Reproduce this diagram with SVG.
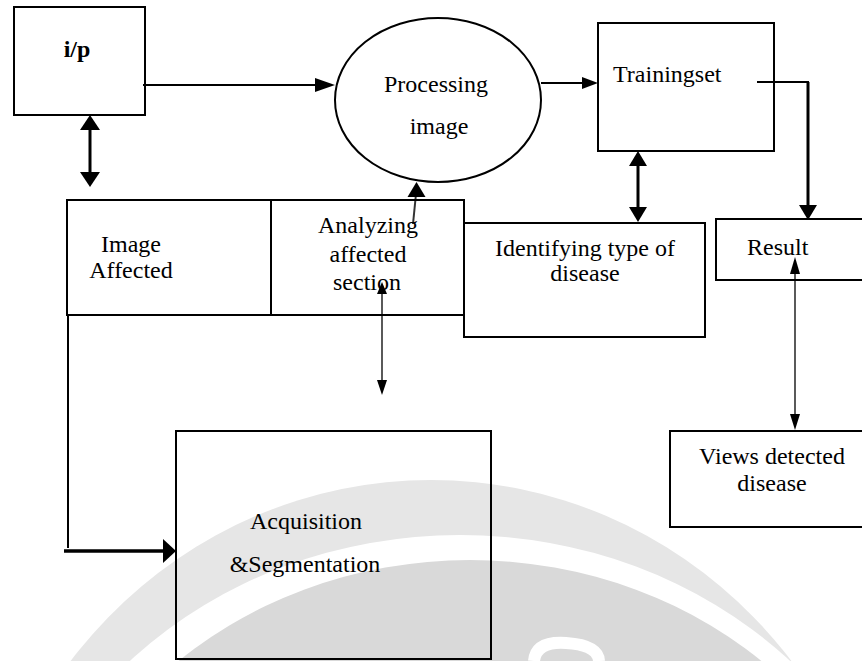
<svg xmlns="http://www.w3.org/2000/svg" width="862" height="661" viewBox="0 0 862 661">
  <style>
    .box { fill: none; stroke: #000; stroke-width: 2; }
    .t { font-family: "Liberation Serif", "Times New Roman", serif; font-size: 24px; fill: #000; }
    .c { text-anchor: middle; }
    .ln { fill: none; stroke: #000; stroke-width: 2; }
    .thick { fill: none; stroke: #000; stroke-width: 3; }
    .thin { fill: none; stroke: #000; stroke-width: 1.3; }
    .head { fill: #000; stroke: none; }
  </style>
  <rect width="862" height="661" fill="#fff"/>
  <g id="watermark">
    <ellipse cx="431" cy="950" rx="457" ry="470" fill="#e6e6e6"/>
    <ellipse cx="460" cy="950" rx="460" ry="415" fill="#fff"/>
    <ellipse cx="470" cy="950" rx="434" ry="390" fill="#d9d9d9"/>
    <path d="M 534 661 Q 536 641 566 643 Q 598 645 599 661" fill="none" stroke="#fff" stroke-width="12"/>
  </g>

  <g id="connectors">
    <!-- i/p to Processing -->
    <line class="ln" x1="143" y1="85" x2="318" y2="85"/>
    <polygon class="head" points="335,85 315,78 315,92"/>
    <!-- i/p <-> Image Affected -->
    <line class="thick" x1="90" y1="128" x2="90" y2="174"/>
    <polygon class="head" points="90,115 80,130 100,130"/>
    <polygon class="head" points="90,187 80,172 100,172"/>
    <!-- Processing to Trainingset -->
    <line class="ln" x1="541" y1="83" x2="584" y2="83" stroke="#222"/>
    <polygon class="head" points="598,83 582,77 582,89" fill="#111"/>
    <!-- Trainingset to Result -->
    <polyline class="ln" points="757,82 808,82 808,206"/>
    <line class="thick" x1="808" y1="82" x2="808" y2="206"/>
    <polygon class="head" points="808,220 799,205 817,205"/>
    <!-- Trainingset <-> Identifying -->
    <line class="thick" x1="638" y1="164" x2="638" y2="208"/>
    <polygon class="head" points="638,151 629,166 647,166"/>
    <polygon class="head" points="638,222 629,207 647,207"/>
    <!-- Result <-> Views -->
    <line class="thin" x1="795" y1="270" x2="795" y2="416"/>
    <polygon class="head" points="795,257 790,274 800,274"/>
    <polygon class="head" points="795,430 790,414 800,414"/>
    <!-- Analyzing up to Processing -->
    <line x1="413" y1="224" x2="416" y2="194" stroke="#333" stroke-width="2"/>
    <polygon class="head" points="416.5,182 407.5,197 425.5,197" fill="#111"/>
    <!-- Analyzing <-> Acquisition area -->
    <line class="thin" x1="382" y1="292" x2="382" y2="383"/>
    <polygon class="head" points="382,282 377,294 387,294"/>
    <polygon class="head" points="382,395 377,380 387,380"/>
    <!-- left loop to Acquisition -->
    <line class="ln" x1="68" y1="315" x2="68" y2="548"/>
    <line x1="64" y1="551" x2="165" y2="551" stroke="#000" stroke-width="3.5"/>
    <polygon class="head" points="176,551 163,539 163,563"/>
  </g>

  <g id="node-ip">
    <rect class="box" x="14" y="7" width="131" height="108"/>
    <text class="t c" x="77" y="57" font-weight="bold">i/p</text>
  </g>

  <g id="node-processing">
    <ellipse class="box" cx="438" cy="100" rx="103" ry="82"/>
    <text class="t c" x="436" y="92">Processing</text>
    <text class="t c" x="439" y="134" font-size="21">image</text>
  </g>

  <g id="node-trainingset">
    <rect class="box" x="598" y="23" width="176" height="128"/>
    <text class="t" x="613" y="82">Trainingset</text>
  </g>

  <g id="node-image-affected">
    <path class="box" d="M 67 200 H 271 V 315 H 67 Z"/>
    <text class="t c" x="131" y="252">Image</text>
    <text class="t c" x="131" y="278">Affected</text>
  </g>

  <g id="node-analyzing">
    <path class="box" d="M 271 200 H 464 V 315 H 271"/>
    <text class="t c" x="368" y="233">Analyzing</text>
    <text class="t c" x="368" y="262">affected</text>
    <text class="t c" x="367" y="290">section</text>
  </g>

  <g id="node-identifying">
    <rect class="box" x="464" y="223" width="241" height="114"/>
    <text class="t c" x="585" y="256">Identifying type of</text>
    <text class="t c" x="585" y="281">disease</text>
  </g>

  <g id="node-result">
    <path class="box" d="M 866 219 H 716 V 280 H 866"/>
    <text class="t" x="747" y="255" font-size="26">Result</text>
  </g>

  <g id="node-views">
    <path class="box" d="M 866 431 H 670 V 527 H 866"/>
    <text class="t c" x="772" y="464">Views detected</text>
    <text class="t c" x="772" y="491">disease</text>
  </g>

  <g id="node-acquisition">
    <rect class="box" x="176" y="431" width="315" height="228"/>
    <text class="t c" x="306" y="529">Acquisition</text>
    <text class="t c" x="305" y="572">&amp;Segmentation</text>
  </g>
</svg>
